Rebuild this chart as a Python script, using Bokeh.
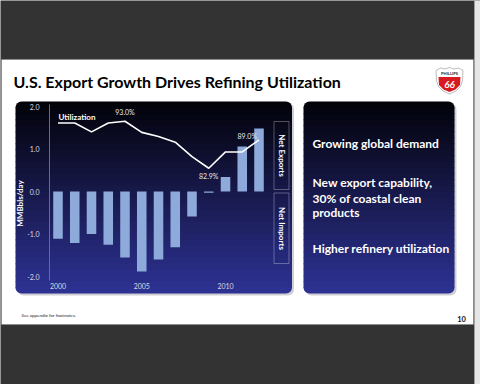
import numpy as np
from bokeh.plotting import figure
from bokeh.models import (Range1d, FixedTicker, BoxAnnotation, Label, PolyAnnotation,
                          PrintfTickFormatter, ColumnDataSource)
from bokeh.core.properties import value
from bokeh.embed import file_html
from bokeh.resources import INLINE

# ---------------- data ----------------
years = list(range(2000, 2013))
net_exports = [-1.11, -1.21, -1.00, -1.25, -1.55, -1.88, -1.60, -1.31, -0.59, -0.03, 0.34, 1.06, 1.48]
utilization = [92.6, 92.6, 90.7, 92.6, 93.0, 90.6, 89.7, 88.5, 85.4, 82.9, 86.4, 86.4, 89.0]
labeled_years = [2004, 2009, 2012]
y_ticks = [-2.0, -1.0, 0.0, 1.0, 2.0]
x_ticks = [2000, 2005, 2010]
bullets = ["Growing global demand", "New export capability,", "30% of coastal clean",
           "products", "Higher refinery utilization"]
title_text = "U.S. Export Growth Drives Refining Utilization"
y_title = "MMBbls/day"

FONT = "Lato"
W, H = 480, 384

# data <-> pixel mapping (frame covers the whole canvas)
X0, PXY = 57.5, 16.75      # px of year 2000, px per year
Y0, PXV = 191.0, 42.5      # px of value 0, px per unit
x_start, x_end = 2000 - X0 / PXY, 2000 + (W - X0) / PXY
y_start, y_end = -(H - Y0) / PXV, Y0 / PXV
ax_left = 2000 - (X0 - 49) / PXY          # y-axis location
ax_top, ax_bot = (Y0 - 104) / PXV, -(280 - Y0) / PXV
ax_xlab = -(275 - Y0) / PXV

# utilization scale: util = U0 + K * v
U0, K = 77.9, 9.13

p = figure(width=W, height=H, x_range=Range1d(x_start, x_end), y_range=Range1d(y_start, y_end),
           output_backend="svg", toolbar_location=None,
           min_border_left=0, min_border_right=0, min_border_top=0, min_border_bottom=0)
p.extra_y_ranges = {"util": Range1d(U0 + K * y_start, U0 + K * y_end)}
p.border_fill_color = "#333333"
p.background_fill_color = "#333333"
p.outline_line_color = None
p.grid.visible = False


def sxp(x):  # canvas x -> screen units
    return x


def syp(y):  # canvas y -> screen units (bottom-up)
    return H - y


def box(xa, ya, xb, yb, level="underlay", **kw):
    kw.setdefault("fill_alpha", 1)
    kw.setdefault("line_color", None)
    b = BoxAnnotation(left=sxp(xa), right=sxp(xb), top=syp(ya), bottom=syp(yb),
                      left_units="screen", right_units="screen", top_units="screen",
                      bottom_units="screen", level=level, editable=False, **kw)
    p.add_layout(b)


def label(x, y, text, size, color="white", bold=False, align="left", baseline="middle",
          angle=0, italic=False, font=FONT):
    style = "bold" if bold else "normal"
    if italic:
        style = "bold italic" if bold else "italic"
    p.add_layout(Label(x=sxp(x), y=syp(y), x_units="screen", y_units="screen", text=text,
                       text_font_size=f"{size}px", text_color=color, text_font_style=style,
                       text_align=align, text_baseline=baseline, angle=angle, text_font=font))


def hexc(c):
    return "#%02x%02x%02x" % tuple(int(round(v)) for v in c)


def panel(xa, ya, xb, yb, top=(2, 2, 8), bot=(46, 50, 148), n=32):
    box(xa + 2, ya + 2, xb + 2, yb + 2, fill_color="#cfcfd4", border_radius=6)
    edges = np.linspace(ya, yb, n + 1)
    for i in range(n):
        t = (i + 0.5) / n
        c = hexc([top[k] + (bot[k] - top[k]) * t for k in range(3)])
        r = 0
        if i == 0:
            r = (6, 6, 0, 0)
        elif i == n - 1:
            r = (0, 0, 6, 6)
        e1 = edges[i + 1] + (0.8 if i < n - 1 else 0)
        box(xa, edges[i], xb, e1, fill_color=c, border_radius=r)


# slide
box(1, 59, 473, 324, fill_color="white", line_color="#777777", line_width=1)
box(474, 0, 480, 384, fill_color="#e6e6e6", line_color="#c8c8c8", line_width=1)
label(13, 81, title_text, 16, color="black", bold=True)

# logo
p.add_layout(PolyAnnotation(
    xs=[sxp(v) for v in [435.5, 440, 444.5, 449, 453.5, 458, 462.5, 462, 460, 455.5, 449, 442.5, 438, 436]],
    ys=[syp(v) for v in [70, 67.5, 68.5, 67, 68.5, 67.5, 70, 80, 86, 90.5, 93.5, 90.5, 86, 80]],
    xs_units="screen", ys_units="screen", fill_color="white", fill_alpha=1,
    line_color="#222222", line_width=1, level="annotation", editable=False))
p.add_layout(PolyAnnotation(
    xs=[sxp(v) for v in [438, 460, 459.5, 455, 449, 443, 438.5]],
    ys=[syp(v) for v in [76.5, 76.5, 84.5, 89, 91.5, 89, 84.5]],
    xs_units="screen", ys_units="screen", fill_color="#d71920", fill_alpha=1,
    line_color=None, level="annotation", editable=False))
label(449, 72.5, "PHILLIPS", 4, color="#222222", bold=True, align="center")
label(449, 84, "66", 10, color="white", bold=True, italic=True, align="center")

# panels
panel(15, 101, 291.5, 293)
panel(303, 101, 454, 293)

# net export / import boxes
box(273.5, 121, 288.5, 189, level="annotation", fill_alpha=0, line_color="white", line_width=1)
box(273.5, 192.5, 288.5, 263, level="annotation", fill_alpha=0, line_color="white", line_width=1)
label(281, 155, "Net Exports", 8, bold=True, align="center", angle=-np.pi / 2)
label(281, 228, "Net Imports", 8, bold=True, align="center", angle=-np.pi / 2)

label(58, 116, "Utilization", 8, bold=True)
label(19.5, 203, y_title, 8, bold=True, align="center", angle=np.pi / 2)

# right panel bullets
for txt, yy in zip(bullets, [143, 182, 198, 212, 248]):
    label(312, yy, txt, 12, bold=True)

# footer
label(21, 315, "See appendix for footnotes.", 4.5, color="#222222")
label(461, 318, "10", 7.5, color="#111111", bold=True, align="center")

# ---------------- data marks ----------------
p.vbar(x=years, top=net_exports, width=0.57, fill_color="#8eaadb", line_color=None)
p.line(years, utilization, y_range_name="util", line_color="white", line_width=1.6)

util_of = dict(zip(years, utilization))
src = ColumnDataSource(dict(
    x=labeled_years,
    y=[util_of[yr] for yr in labeled_years],
    text=["%.1f%%" % util_of[yr] for yr in labeled_years],
    align=["center", "center", "right"],
    base=["bottom", "top", "bottom"],
    xo=[0, 0, -2],
    yo=[-5, 4, 0],
))
p.text(x="x", y="y", text="text", source=src, y_range_name="util", text_align="align",
       text_baseline="base", x_offset="xo", y_offset="yo", text_font=value(FONT),
       text_font_size=value("7px"), text_color="#e6e6ee")

# axes (placed inside the frame at fixed locations)
ya = p.yaxis[0]
ya.fixed_location = ax_left
ya.bounds = (ax_bot, ax_top)
ya.ticker = FixedTicker(ticks=y_ticks)
ya.formatter = PrintfTickFormatter(format="%.1f")
ya.axis_line_color = "#6a6a8c"
ya.major_tick_line_color = None
ya.minor_tick_line_color = None
ya.major_label_text_color = "#d8d8e0"
ya.major_label_text_font = FONT
ya.major_label_text_font_size = "7px"
ya.major_label_standoff = 4

xa = p.xaxis[0]
xa.fixed_location = ax_xlab
xa.bounds = (ax_left, 2000 + (270 - X0) / PXY)
xa.ticker = FixedTicker(ticks=x_ticks)
xa.axis_line_color = None
xa.major_tick_line_color = None
xa.minor_tick_line_color = None
xa.major_label_text_color = "#d8d8e0"
xa.major_label_text_font = FONT
xa.major_label_text_font_size = "7px"
xa.major_label_standoff = 1

open("out.html", "w").write(file_html(p, INLINE))
